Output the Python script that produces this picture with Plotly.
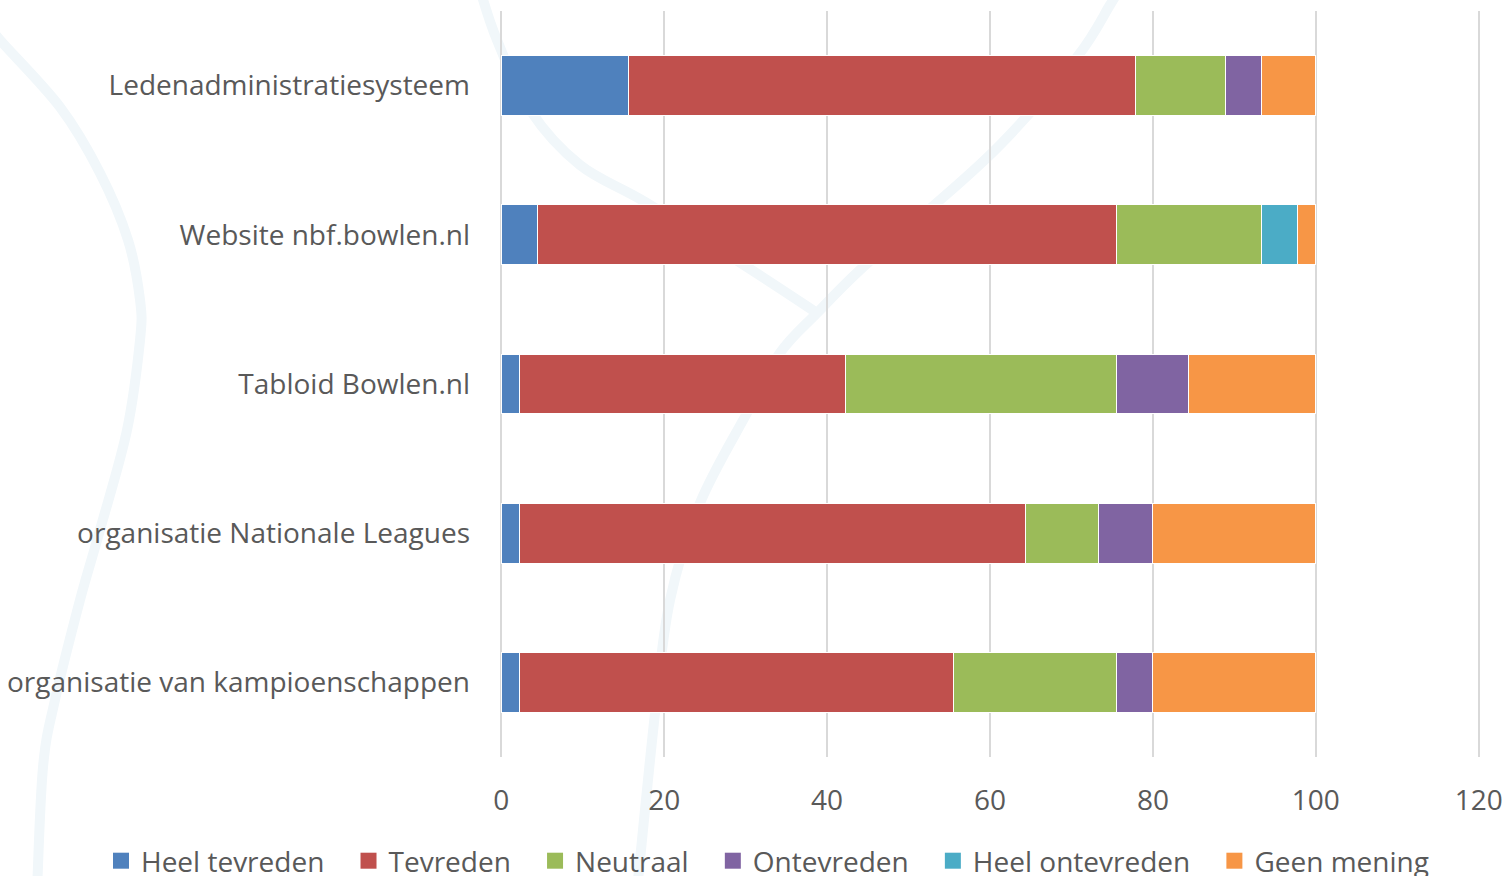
import plotly.graph_objects as go

# Survey: satisfaction with NBF services (percent of respondents)
categories = [
    "Ledenadministratiesysteem",
    "Website nbf.bowlen.nl",
    "Tabloid Bowlen.nl",
    "organisatie Nationale Leagues",
    "organisatie van kampioenschappen",
]
heel_tevreden = [15.6, 4.4, 2.2, 2.2, 2.2]
tevreden = [62.2, 71.1, 40.0, 62.2, 53.3]
neutraal = [11.1, 17.8, 33.3, 8.9, 20.0]
ontevreden = [4.4, 0, 8.9, 6.7, 4.4]
heel_ontevreden = [0, 4.4, 0, 0, 0]
geen_mening = [6.7, 2.2, 15.6, 20.0, 20.0]

series_names = ["Heel tevreden", "Tevreden", "Neutraal", "Ontevreden",
                "Heel ontevreden", "Geen mening"]
series_values = [heel_tevreden, tevreden, neutraal, ontevreden,
                 heel_ontevreden, geen_mening]
colors = ["#4F81BD", "#C0504D", "#9BBB59", "#8064A2", "#4BACC6", "#F79646"]
x_ticks = [0, 20, 40, 60, 80, 100, 120]

FONT = "Open Sans"
FONT_SIZE = 28
TEXT = "#595959"
FIG_W, FIG_H = 1507, 876
M_L, M_R, M_T, M_B = 500, 27, 11, 119
PLOT_W = FIG_W - M_L - M_R
PLOT_H = FIG_H - M_T - M_B
X_PAD = 0.15  # keeps the 0 and 120 gridlines inside the plot area

fig = go.Figure()

for name, vals, col in zip(series_names, series_values, colors):
    fig.add_trace(go.Bar(
        y=categories, x=vals, name=name, orientation="h",
        marker=dict(color=col, line=dict(color="white", width=1)),
        showlegend=False,
    ))

# legend entries with larger square swatches
ENTRY_GAP = "\u00a0\u00a0\u2009"
for i, (name, col) in enumerate(zip(series_names, colors)):
    label = name if i == len(series_names) - 1 else name + ENTRY_GAP
    fig.add_trace(go.Scatter(
        x=[None], y=[None], mode="markers", name=label,
        marker=dict(symbol="square", size=16, color=col),
        hoverinfo="skip",
    ))


# faint decorative swooshes in the background
def to_paper(px, py):
    return (px - M_L) / PLOT_W, (FIG_H - M_B - py) / PLOT_H


def smooth_path(points):
    pts = [to_paper(x, y) for x, y in points]
    d = "M {:.4f},{:.4f}".format(*pts[0])
    for i in range(len(pts) - 1):
        p0 = pts[i - 1] if i > 0 else pts[i]
        p1 = pts[i]
        p2 = pts[i + 1]
        p3 = pts[i + 2] if i + 2 < len(pts) else pts[i + 1]
        c1 = (p1[0] + (p2[0] - p0[0]) / 6, p1[1] + (p2[1] - p0[1]) / 6)
        c2 = (p2[0] - (p3[0] - p1[0]) / 6, p2[1] - (p3[1] - p1[1]) / 6)
        d += " C {:.4f},{:.4f} {:.4f},{:.4f} {:.4f},{:.4f}".format(
            c1[0], c1[1], c2[0], c2[1], p2[0], p2[1])
    return d


swooshes = [
    [(-20, 15), (0, 40), (60, 107), (100, 173), (128, 240), (140, 300),
     (140, 340), (127, 430), (100, 530), (80, 600), (55, 700), (43, 767),
     (37, 890)],
    [(480, -10), (497, 40), (530, 110), (580, 165), (647, 203), (747, 267),
     (817, 313)],
    [(1122, -15), (1110, 5), (1077, 57), (1000, 145), (923, 215), (860, 270),
     (817, 313), (780, 353), (747, 413), (700, 503), (670, 600), (655, 713),
     (637, 890)],
]
for pts in swooshes:
    fig.add_shape(type="path", path=smooth_path(pts), xref="paper", yref="paper",
                  line=dict(color="#f1f7fa", width=10), layer="below")

fig.update_layout(
    width=FIG_W, height=FIG_H,
    margin=dict(l=M_L, r=M_R, t=M_T, b=M_B, pad=0, autoexpand=False),
    barmode="stack", bargap=0.6,
    paper_bgcolor="white", plot_bgcolor="white",
    font=dict(family=FONT, size=FONT_SIZE, color=TEXT),
    xaxis=dict(
        range=[-X_PAD, 120 + X_PAD], tickvals=x_ticks,
        ticktext=[str(v) for v in x_ticks],
        showgrid=True, gridcolor="#d9d9d9", gridwidth=1.5,
        zeroline=False, showline=False, ticks="",
        ticklabelstandoff=24,
        tickfont=dict(family=FONT, size=FONT_SIZE, color=TEXT),
    ),
    yaxis=dict(
        type="category", categoryorder="array", categoryarray=categories,
        range=[4.5, -0.5], showgrid=False, zeroline=False, showline=False,
        ticks="", ticklabelstandoff=29,
        tickfont=dict(family=FONT, size=FONT_SIZE, color=TEXT),
    ),
    legend=dict(
        orientation="h", traceorder="normal",
        xref="paper", yref="paper",
        x=(101 - M_L) / PLOT_W, xanchor="left",
        y=(FIG_H - M_B - 861) / PLOT_H, yanchor="middle",
        font=dict(family=FONT, size=FONT_SIZE, color=TEXT),
        bgcolor="rgba(0,0,0,0)",
    ),
)

fig.write_html("out.html")
